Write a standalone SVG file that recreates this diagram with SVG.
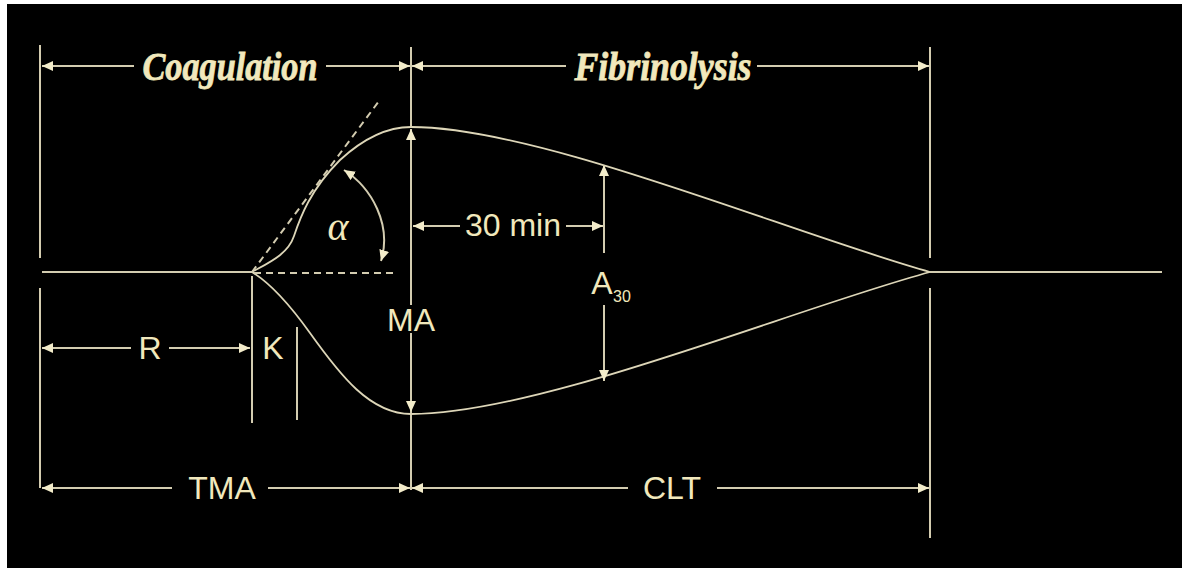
<svg xmlns="http://www.w3.org/2000/svg" width="1182" height="568" viewBox="0 0 1182 568">
  <style>
    .ln{stroke:#d3ccb0;stroke-width:2;fill:none}
    .cv{stroke:#ddd6b8;stroke-width:1.8;fill:none}
    .ds{stroke:#d3ccb0;stroke-width:2;fill:none;stroke-dasharray:7 5}
    .lbl{font-family:"Liberation Sans",Arial,sans-serif;font-size:32px;fill:#f1e8bc;text-anchor:middle}
    .sub{font-family:"Liberation Sans",Arial,sans-serif;font-size:16px;fill:#f1e8bc}
    .ttl{font-family:"Liberation Serif","Times New Roman",serif;font-weight:bold;font-style:italic;font-size:41px;fill:#f1e8bc;stroke:#f1e8bc;stroke-width:0.8;text-anchor:middle}
    .gr{font-family:"Liberation Serif","Times New Roman",serif;font-style:italic;font-size:40px;fill:#f1e8bc;text-anchor:middle}
  </style>
  <defs>
    <marker id="a" viewBox="0 0 11 10" markerWidth="11" markerHeight="10" refX="11" refY="5" orient="auto-start-reverse" markerUnits="userSpaceOnUse">
      <path d="M0,0 L11,5 L0,10 z" fill="#f3ecca"/>
    </marker>
  </defs>
  <rect x="0" y="0" width="1182" height="568" fill="#ffffff"/>
  <rect x="7" y="4" width="1175" height="564" fill="#000000"/>

  <g id="extension-lines">
    <line class="ln" x1="40" y1="45" x2="40" y2="258"/>
    <line class="ln" x1="40" y1="288" x2="40" y2="488"/>
    <line class="ln" x1="411" y1="47" x2="411" y2="128"/>
    <line class="ln" x1="411" y1="333" x2="411" y2="490"/>
    <line class="ln" x1="930" y1="47" x2="930" y2="258"/>
    <line class="ln" x1="930" y1="288" x2="930" y2="538"/>
    <line class="ln" x1="252" y1="276" x2="252" y2="423"/>
    <line class="ln" x1="297" y1="327" x2="297" y2="420"/>
  </g>

  <g id="trace">
    <line class="ln" x1="42" y1="272" x2="252" y2="272"/>
    <line class="ln" x1="930" y1="272" x2="1162" y2="272"/>
    <path class="cv" d="M252,272 C270,262 288,254 294,236 C300,218 310,190 340,160 C365,137 388,127 411,127 C540,127 790,233 930,272"/>
    <path class="cv" d="M252,272 C270,283 290,305 310,333 C340,375 370,414 411,414 C540,414 790,310 930,272"/>
    <line class="ds" x1="252" y1="272" x2="379" y2="101"/>
    <line class="ds" x1="254" y1="273" x2="393" y2="273"/>
  </g>

  <g id="connectors">
    <line class="ln" x1="42" y1="66" x2="134" y2="66" marker-start="url(#a)"/>
    <line class="ln" x1="326" y1="66" x2="410" y2="66" marker-end="url(#a)"/>
    <line class="ln" x1="412" y1="66" x2="566" y2="66" marker-start="url(#a)"/>
    <line class="ln" x1="757" y1="66" x2="929" y2="66" marker-end="url(#a)"/>

    <line class="ln" x1="411" y1="129" x2="411" y2="305" marker-start="url(#a)"/>
    <line class="ln" x1="411" y1="333" x2="411" y2="412" marker-end="url(#a)"/>

    <line class="ln" x1="604" y1="165" x2="604" y2="253" marker-start="url(#a)"/>
    <line class="ln" x1="604" y1="305" x2="604" y2="381" marker-end="url(#a)"/>

    <line class="ln" x1="413" y1="226" x2="460" y2="226" marker-start="url(#a)"/>
    <line class="ln" x1="566" y1="226" x2="603" y2="226" marker-end="url(#a)"/>

    <path class="ln" d="M344,170 C372,188 392,225 381,261" marker-start="url(#a)" marker-end="url(#a)"/>

    <line class="ln" x1="42" y1="348" x2="131" y2="348" marker-start="url(#a)"/>
    <line class="ln" x1="169" y1="348" x2="250" y2="348" marker-end="url(#a)"/>

    <line class="ln" x1="42" y1="488" x2="172" y2="488" marker-start="url(#a)"/>
    <line class="ln" x1="268" y1="488" x2="410" y2="488" marker-end="url(#a)"/>
    <line class="ln" x1="412" y1="488" x2="628" y2="488" marker-start="url(#a)"/>
    <line class="ln" x1="717" y1="488" x2="929" y2="488" marker-end="url(#a)"/>
  </g>

  <g id="label-coagulation"><text class="ttl" x="230" y="80" textLength="175" lengthAdjust="spacingAndGlyphs">Coagulation</text></g>
  <g id="label-fibrinolysis"><text class="ttl" x="663" y="80" textLength="177" lengthAdjust="spacingAndGlyphs">Fibrinolysis</text></g>
  <g id="label-alpha"><text class="gr" x="338" y="240">α</text></g>
  <g id="label-30min"><text class="lbl" x="513" y="236">30 min</text></g>
  <g id="label-A30"><text class="lbl" x="602" y="294">A</text><text class="sub" x="613" y="302">30</text></g>
  <g id="label-MA"><text class="lbl" x="411" y="331">MA</text></g>
  <g id="label-R"><text class="lbl" x="150" y="359">R</text></g>
  <g id="label-K"><text class="lbl" x="273" y="359">K</text></g>
  <g id="label-TMA"><text class="lbl" x="222" y="499">TMA</text></g>
  <g id="label-CLT"><text class="lbl" x="672" y="499">CLT</text></g>
</svg>
